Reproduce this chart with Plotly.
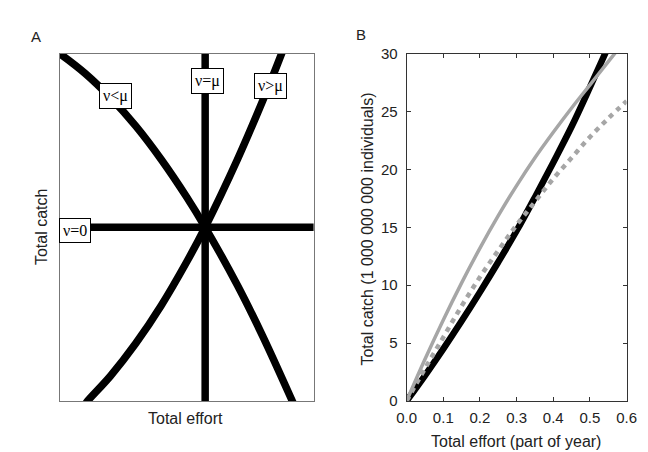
import plotly.graph_objects as go

# ---------------- Panel A (schematic, unitless 0-1 axes) ----------------
a_lt_x = [-0.02, 0.0, 0.1, 0.2, 0.3, 0.4, 0.5, 0.573, 0.7, 0.8, 0.916, 0.925]
a_lt_y = [1.01, 1.0, 0.943, 0.873, 0.791, 0.695, 0.587, 0.5, 0.333, 0.186, 0.0, -0.015]
a_gt_x = [0.10, 0.11, 0.2, 0.3, 0.4, 0.5, 0.573, 0.7, 0.8, 0.874, 0.88]
a_gt_y = [-0.01, 0.0, 0.072, 0.166, 0.275, 0.400, 0.5, 0.695, 0.865, 1.0, 1.012]
a_eq_x = [0.573, 0.573]
a_eq_y = [-0.02, 1.02]
a_zero_x = [-0.02, 1.02]
a_zero_y = [0.5, 0.5]
a_labels = ["ν<μ", "ν=μ", "ν>μ", "ν=0"]
a_label_x = [0.218, 0.584, 0.832, 0.061]
a_label_y = [0.878, 0.922, 0.906, 0.49]

# ---------------- Panel B ----------------
b_black_x = [0, 0.05, 0.1, 0.15, 0.2, 0.25, 0.3, 0.35, 0.4, 0.45, 0.5, 0.55]
b_black_y = [0, 2.2, 4.5, 6.9, 9.4, 12.0, 14.7, 17.6, 20.6, 23.7, 27.1, 30.6]
b_gray_x = [0, 0.05, 0.1, 0.15, 0.2, 0.25, 0.3, 0.35, 0.4, 0.45, 0.5, 0.55, 0.57]
b_gray_y = [0, 3.6, 7.0, 10.2, 13.2, 16.0, 18.6, 21.0, 23.2, 25.3, 27.3, 29.3, 30.1]
b_dot_x = [0, 0.05, 0.1, 0.15, 0.2, 0.25, 0.3, 0.35, 0.4, 0.45, 0.5, 0.55, 0.6]
b_dot_y = [0, 2.8, 5.5, 8.2, 10.7, 13.0, 15.2, 17.2, 19.2, 21.0, 22.8, 24.4, 25.9]
b_xticks = [0, 0.1, 0.2, 0.3, 0.4, 0.5, 0.6]
b_yticks = [0, 5, 10, 15, 20, 25, 30]

W, H = 648, 452
SANS = "Liberation Sans, Arial, sans-serif"
SERIF = "Liberation Serif, Times New Roman, serif"

fig = go.Figure()
lw_a = 7.5
for xs, ys, shp in [(a_lt_x, a_lt_y, "spline"), (a_gt_x, a_gt_y, "spline"),
                    (a_eq_x, a_eq_y, "linear"), (a_zero_x, a_zero_y, "linear")]:
    fig.add_trace(go.Scatter(x=xs, y=ys, mode="lines", line=dict(color="black", width=lw_a, shape=shp),
                             xaxis="x", yaxis="y", showlegend=False, hoverinfo="skip"))

fig.add_trace(go.Scatter(x=b_black_x, y=b_black_y, mode="lines", line=dict(color="black", width=6.5, shape="spline"),
                         xaxis="x2", yaxis="y2", showlegend=False))
fig.add_trace(go.Scatter(x=b_gray_x, y=b_gray_y, mode="lines", line=dict(color="#a6a6a6", width=3.5, shape="spline"),
                         xaxis="x2", yaxis="y2", showlegend=False))
fig.add_trace(go.Scatter(x=b_dot_x, y=b_dot_y, mode="lines",
                         line=dict(color="#a6a6a6", width=4.5, dash="5px,5px", shape="spline"),
                         xaxis="x2", yaxis="y2", showlegend=False))

def px_x(p):
    return p / W

def px_y(p):
    return 1 - p / H

annotations = []
for t, x, y in zip(a_labels, a_label_x, a_label_y):
    annotations.append(dict(text=t, x=x, y=y, xref="x", yref="y", showarrow=False,
                            font=dict(family=SERIF, size=16, color="black"),
                            bgcolor="white", bordercolor="black", borderwidth=1, borderpad=3))

def txt(t, x, y, size=16, angle=0):
    annotations.append(dict(text=t, x=px_x(x), y=px_y(y), xref="paper", yref="paper", showarrow=False,
                            font=dict(family=SANS, size=size, color="#222"), textangle=angle,
                            xanchor="center", yanchor="middle"))

txt("A", 19, 20, 15)
txt("B", 354, 18, 15)
txt("Total effort", 173, 417)
txt("Total catch", 25, 218, angle=-90)
txt("Total effort (part of year)", 514, 441)
txt("Total catch (1 000 000 000 individuals)", 361, 220, angle=-90)

fig.update_layout(
    width=W, height=H, margin=dict(l=0, r=0, t=0, b=0),
    paper_bgcolor="white", plot_bgcolor="white",
    annotations=annotations,
    xaxis=dict(domain=[px_x(43), px_x(305)], range=[0, 1], showgrid=False, zeroline=False,
               showticklabels=False, ticks="", showline=True, mirror=True, linecolor="#777", linewidth=1),
    yaxis=dict(domain=[px_y(399), px_y(38)], range=[0, 1], showgrid=False, zeroline=False,
               showticklabels=False, ticks="", showline=True, mirror=True, linecolor="#777", linewidth=1),
    xaxis2=dict(domain=[px_x(401), px_x(628)], range=[0, 0.6], anchor="y2", showgrid=False, zeroline=False,
                tickvals=b_xticks, ticktext=[f"{v:.1f}" for v in b_xticks], ticks="inside", ticklen=4,
                tickcolor="#333", showline=True, mirror="ticks", linecolor="#333", linewidth=1,
                ticklabelstandoff=3,
                tickfont=dict(family=SANS, size=15, color="#222")),
    yaxis2=dict(domain=[px_y(399), px_y(38)], range=[0, 30], anchor="x2", showgrid=False, zeroline=False,
                tickvals=b_yticks, ticks="inside", ticklen=4,
                tickcolor="#333", showline=True, mirror="ticks", linecolor="#333", linewidth=1,
                ticklabelstandoff=5,
                tickfont=dict(family=SANS, size=15, color="#222")),
)

fig.write_html("out.html")
